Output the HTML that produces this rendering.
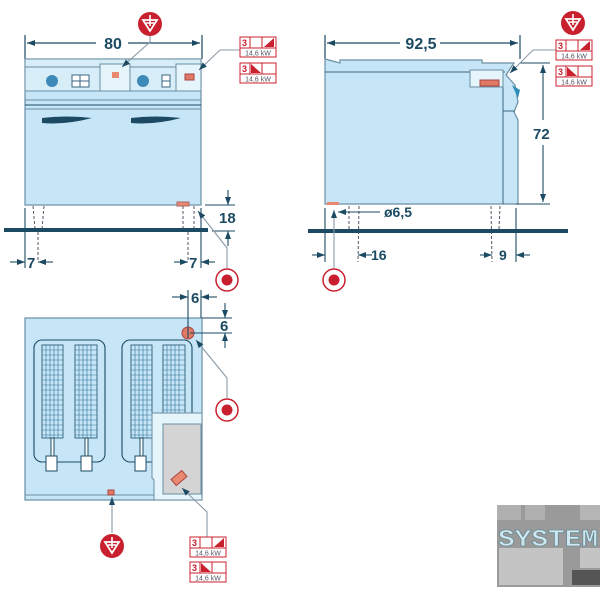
<!DOCTYPE html>
<html><head><meta charset="utf-8"><style>body{margin:0;background:#fff}svg{display:block}</style></head><body>
<svg width="600" height="591" viewBox="0 0 600 591" xmlns="http://www.w3.org/2000/svg" font-family="Liberation Sans, sans-serif">
<defs>
<g id="tbl">
  <rect x="0" y="0" width="36" height="11" fill="#fff" stroke="#c8202e"/>
  <rect x="0" y="0" width="10" height="11" fill="#fff" stroke="#c8202e"/>
  <rect x="10" y="0" width="12" height="11" fill="#fff" stroke="#c8202e"/>
  <text x="2" y="9" font-size="9" font-weight="bold" fill="#c8202e">3</text>
  <rect x="0" y="11" width="36" height="9" fill="#fff" stroke="#c8202e"/>
  <text x="18" y="18.5" font-size="7" text-anchor="middle" fill="#556">14,6 kW</text>
</g>
<g id="gnd">
  <circle r="12" fill="#c8202e"/>
  <path d="M-7,-4 L7,-4 L0,7 Z" fill="none" stroke="#fff" stroke-width="1.8"/>
  <path d="M0,-9 V2 M-4,-1 H4" stroke="#fff" stroke-width="1.6"/>
</g>
<g id="tgt">
  <circle r="11" fill="#fff" stroke="#c8202e" stroke-width="1.5"/>
  <circle r="5.5" fill="#c8202e"/>
</g>
<marker id="ar" markerWidth="8" markerHeight="6" refX="8" refY="3" orient="auto" markerUnits="userSpaceOnUse"><path d="M0,0 L8,3 L0,6 Z" fill="#1c4a63"/></marker>
</defs>
<g stroke="#1c4a63" fill="none" stroke-width="1.2">
<line x1="25" y1="35" x2="25" y2="59"/><line x1="202" y1="35" x2="202" y2="59"/>
<line x1="128" y1="43" x2="200" y2="43" marker-end="url(#ar)"/>
</g>
<line x1="96" y1="43" x2="27" y2="43" stroke="#1c4a63" stroke-width="1.2" marker-end="url(#ar)"/>
<text x="113" y="49" font-size="16" font-weight="bold" fill="#1c4a63" text-anchor="middle">80</text>
<rect x="25" y="59" width="176" height="146" fill="#c6e6f7" stroke="#6b8ea3" stroke-width="1.2"/>
<rect x="25" y="59" width="176" height="32" fill="#d7eef9" stroke="#6b8ea3"/>
<line x1="25" y1="67" x2="201" y2="67" stroke="#6b8ea3"/>
<rect x="100" y="64" width="30" height="27" fill="#e6f4fb" stroke="#6b8ea3"/>
<rect x="176" y="64" width="25" height="27" fill="#e6f4fb" stroke="#6b8ea3"/>
<rect x="112" y="72" width="7" height="6" fill="#e88a70"/>
<rect x="185" y="74" width="9" height="6" fill="#e07a65" stroke="#a44"/>
<circle cx="52" cy="81" r="6" fill="#3d8ab8"/><circle cx="143" cy="81" r="6" fill="#3d8ab8"/>
<rect x="72" y="75" width="17" height="12" fill="#fff" stroke="#3a6580"/><line x1="80" y1="75" x2="80" y2="87" stroke="#3a6580"/><line x1="72" y1="81" x2="89" y2="81" stroke="#3a6580"/>
<rect x="162" y="75" width="8" height="12" fill="#fff" stroke="#3a6580"/><line x1="162" y1="81" x2="170" y2="81" stroke="#3a6580"/>
<line x1="25" y1="100" x2="201" y2="100" stroke="#6b8ea3"/><line x1="25" y1="105" x2="201" y2="105" stroke="#1c4a63"/><line x1="25" y1="109" x2="201" y2="109" stroke="#6b8ea3"/>
<path d="M42,118 Q66,115 92,118 Q66,125 42,123 Z" fill="#1c4a63"/>
<path d="M131,118 Q155,115 181,118 Q155,125 131,123 Z" fill="#1c4a63"/>
<rect x="177" y="202" width="12" height="4" fill="#e88a70" stroke="#a66"/>
<g stroke="#556" stroke-dasharray="3,2" stroke-width="1"><line x1="33" y1="206" x2="35" y2="229"/><line x1="44" y1="206" x2="42" y2="229"/><line x1="183" y1="206" x2="183" y2="229"/><line x1="194" y1="206" x2="194" y2="229"/><line x1="38" y1="232" x2="38" y2="262"/><line x1="188" y1="232" x2="188" y2="262"/></g>
<rect x="4" y="228" width="204" height="4" fill="#1c4a63"/>
<g stroke="#1c4a63" stroke-width="1.1">
<line x1="25" y1="208" x2="25" y2="268"/><line x1="201" y1="208" x2="201" y2="268"/>
<line x1="10" y1="262" x2="25" y2="262" marker-end="url(#ar)"/><line x1="53" y1="262" x2="38" y2="262" marker-end="url(#ar)"/>
<line x1="174" y1="262" x2="188" y2="262" marker-end="url(#ar)"/><line x1="215" y1="262" x2="201" y2="262" marker-end="url(#ar)"/>
<line x1="205" y1="205" x2="235" y2="205"/><line x1="212" y1="231" x2="235" y2="231"/>
<line x1="228" y1="190" x2="228" y2="205" marker-end="url(#ar)"/><line x1="228" y1="246" x2="228" y2="231" marker-end="url(#ar)"/>
</g>
<text x="27" y="268" font-size="15" font-weight="bold" fill="#1c4a63">7</text>
<text x="189" y="268" font-size="15" font-weight="bold" fill="#1c4a63">7</text>
<text x="219" y="223" font-size="15" font-weight="bold" fill="#1c4a63">18</text>
<g stroke="#8a9aa6" fill="none" stroke-width="1.1"><path d="M150,32 V42 L122,67" marker-end="url(#ar)"/><path d="M240,50 H220 L199,70" marker-end="url(#ar)"/><path d="M227,268 V248 L198,211" marker-end="url(#ar)"/></g>
<use href="#gnd" x="150" y="24"/>
<use href="#tgt" x="227" y="280"/>
<g transform="translate(240,37)"><use href="#tbl"/><path d="M24,10 L34,10 L34,1 Z" fill="#c8202e"/></g>
<g transform="translate(240,63)"><use href="#tbl"/><path d="M11,1 L21,10 L11,10 Z" fill="#c8202e"/></g>

<g stroke="#1c4a63" stroke-width="1.2"><line x1="325" y1="35" x2="325" y2="59"/><line x1="520" y1="35" x2="520" y2="59"/>
<line x1="400" y1="43" x2="327" y2="43" marker-end="url(#ar)"/><line x1="440" y1="43" x2="518" y2="43" marker-end="url(#ar)"/></g>
<text x="421" y="49" font-size="16" font-weight="bold" fill="#1c4a63" text-anchor="middle">92,5</text>
<path d="M325,59 L340,63 L340,60 L482,60 L482,63 L514,63 L506,75 L515,85 L518,102 L514,112 L518,120 L518,204 L325,204 Z" fill="#c6e6f7" stroke="#6b8ea3" stroke-width="1.2"/>
<line x1="325" y1="72" x2="505" y2="72" stroke="#3a6580"/>
<line x1="503" y1="72" x2="503" y2="204" stroke="#3a6580"/>
<line x1="503" y1="111" x2="515" y2="111" stroke="#3a6580"/>
<rect x="470" y="70" width="33" height="17" fill="#e6f4fb" stroke="#6b8ea3"/>
<rect x="480" y="80" width="19" height="6" fill="#e07a65" stroke="#a44"/>
<path d="M512,85 L520,90 L518,98 Z" fill="#2f8fb8"/>
<rect x="327" y="202" width="12" height="3" fill="#e88a70"/>
<g stroke="#556" stroke-dasharray="3,2" stroke-width="1"><line x1="349" y1="206" x2="349" y2="229"/><line x1="359" y1="206" x2="358" y2="262"/><line x1="491" y1="206" x2="492" y2="262"/><line x1="500" y1="206" x2="499" y2="229"/></g>
<rect x="308" y="229" width="260" height="4" fill="#1c4a63"/>
<g stroke="#1c4a63" stroke-width="1.1">
<line x1="325" y1="208" x2="325" y2="262"/><line x1="516" y1="208" x2="516" y2="262"/>
<line x1="312" y1="255" x2="325" y2="255" marker-end="url(#ar)"/><line x1="372" y1="255" x2="358" y2="255" marker-end="url(#ar)"/>
<line x1="480" y1="255" x2="492" y2="255" marker-end="url(#ar)"/><line x1="530" y1="255" x2="516" y2="255" marker-end="url(#ar)"/>
<line x1="380" y1="212" x2="338" y2="212" marker-end="url(#ar)"/>
<line x1="520" y1="63" x2="550" y2="63"/><line x1="516" y1="204" x2="550" y2="204"/>
<line x1="543" y1="120" x2="543" y2="65" marker-end="url(#ar)"/><line x1="543" y1="145" x2="543" y2="202" marker-end="url(#ar)"/>
</g>
<text x="384" y="217" font-size="14" font-weight="bold" fill="#1c4a63">ø6,5</text>
<text x="371" y="260" font-size="14" font-weight="bold" fill="#1c4a63">16</text>
<text x="499" y="260" font-size="14" font-weight="bold" fill="#1c4a63">9</text>
<text x="533" y="139" font-size="15" font-weight="bold" fill="#1c4a63">72</text>
<g stroke="#8a9aa6" fill="none" stroke-width="1.1"><path d="M556,50 H533 L510,73" marker-end="url(#ar)"/><path d="M334,268 V210" marker-end="url(#ar)"/></g>
<use href="#gnd" x="573" y="23"/>
<use href="#tgt" x="334" y="280"/>
<g transform="translate(556,40)"><use href="#tbl"/><path d="M24,10 L34,10 L34,1 Z" fill="#c8202e"/></g>
<g transform="translate(556,66)"><use href="#tbl"/><path d="M11,1 L21,10 L11,10 Z" fill="#c8202e"/></g>

<rect x="25" y="318" width="177" height="182" fill="#c6e6f7" stroke="#6b8ea3" stroke-width="1.2"/>
<line x1="25" y1="495" x2="202" y2="495" stroke="#6b8ea3"/>
<g fill="none" stroke="#1c4a63" stroke-width="1.1">
<rect x="34" y="340" width="71" height="122" rx="8"/>
<rect x="122" y="340" width="70" height="122" rx="8"/>
</g>
<g fill="#c6e6f7" stroke="#1c4a63" stroke-width="0.8">
<rect x="42" y="345" width="21" height="93" /><rect x="75" y="345" width="22" height="93"/>
<rect x="131" y="345" width="21" height="93"/><rect x="163" y="345" width="22" height="93"/>
</g>
<g stroke="#2d6f95" stroke-width="0.6">
<path d="M42,350H63M42,355H63M42,360H63M42,365H63M42,370H63M42,375H63M42,380H63M42,385H63M42,390H63M42,395H63M42,400H63M42,405H63M42,410H63M42,415H63M42,420H63M42,425H63M42,430H63M42,435H63 M46,345V438M50,345V438M54,345V438M58,345V438"/>
<path d="M75,350H97M75,355H97M75,360H97M75,365H97M75,370H97M75,375H97M75,380H97M75,385H97M75,390H97M75,395H97M75,400H97M75,405H97M75,410H97M75,415H97M75,420H97M75,425H97M75,430H97M75,435H97 M79,345V438M83,345V438M87,345V438M91,345V438"/>
<path d="M131,350H152M131,355H152M131,360H152M131,365H152M131,370H152M131,375H152M131,380H152M131,385H152M131,390H152M131,395H152M131,400H152M131,405H152M131,410H152M131,415H152M131,420H152M131,425H152M131,430H152M131,435H152 M135,345V438M139,345V438M143,345V438M147,345V438"/>
<path d="M163,350H185M163,355H185M163,360H185M163,365H185M163,370H185M163,375H185M163,380H185M163,385H185M163,390H185M163,395H185M163,400H185M163,405H185M163,410H185M163,415H185M163,420H185M163,425H185M163,430H185M163,435H185 M167,345V438M171,345V438M175,345V438M179,345V438"/>
</g>
<g stroke="#1c4a63" fill="#fff" stroke-width="1">
<rect x="51" y="438" width="3" height="18"/><rect x="85" y="438" width="3" height="18"/><rect x="140" y="438" width="3" height="18"/>
<rect x="46" y="456" width="11" height="15"/><rect x="81" y="456" width="11" height="15"/><rect x="135" y="456" width="11" height="15"/>
</g>
<path d="M152,413 H202 V500 H154 V480 L152,478 Z" fill="#e6f4fb" stroke="#6b8ea3"/>
<rect x="163" y="424" width="38" height="70" fill="#d4d4d4" stroke="#6b8ea3"/>
<rect x="172" y="474" width="14" height="8" fill="#e88a70" stroke="#a44" transform="rotate(-40 179 478)"/>
<rect x="108" y="490" width="6" height="5" fill="#e07a65" stroke="#a44"/>
<circle cx="188" cy="333" r="6" fill="#e07a65" stroke="#a44"/>
<g stroke="#1c4a63" stroke-width="1.1">
<line x1="188" y1="290" x2="188" y2="338"/><line x1="201" y1="290" x2="201" y2="318"/>
<line x1="172" y1="297" x2="188" y2="297" marker-end="url(#ar)"/><line x1="217" y1="297" x2="201" y2="297" marker-end="url(#ar)"/>
<line x1="202" y1="318" x2="232" y2="318"/><line x1="190" y1="333" x2="232" y2="333"/>
<line x1="225" y1="303" x2="225" y2="318" marker-end="url(#ar)"/><line x1="225" y1="348" x2="225" y2="333" marker-end="url(#ar)"/>
</g>
<text x="191" y="303" font-size="15" font-weight="bold" fill="#1c4a63">6</text>
<text x="220" y="331" font-size="15" font-weight="bold" fill="#1c4a63">6</text>
<g stroke="#8a9aa6" fill="none" stroke-width="1.1"><path d="M227,398 V378 L196,340" marker-end="url(#ar)"/><path d="M112,533 V497" marker-end="url(#ar)"/><path d="M207,537 V512 L182,488" marker-end="url(#ar)"/></g>
<use href="#tgt" x="227" y="410"/>
<use href="#gnd" x="112" y="546"/>
<g transform="translate(190,537)"><use href="#tbl"/><path d="M24,10 L34,10 L34,1 Z" fill="#c8202e"/></g>
<g transform="translate(190,562)"><use href="#tbl"/><path d="M11,1 L21,10 L11,10 Z" fill="#c8202e"/></g>

<rect x="497" y="505" width="103" height="82" fill="#9a9a9a"/>
<rect x="497" y="505" width="24" height="15" fill="#b0b0b0"/>
<rect x="525" y="505" width="20" height="15" fill="#b0b0b0"/>
<rect x="580" y="505" width="20" height="15" fill="#b5b5b5"/>
<rect x="499" y="548" width="64" height="37" fill="#c4c4c4"/>
<rect x="580" y="548" width="20" height="20" fill="#c4c4c4"/>
<rect x="572" y="570" width="28" height="15" fill="#555"/>
<text x="548" y="546" font-size="24" font-weight="bold" font-family="Liberation Mono, monospace" fill="#cfe8f0" stroke="#6a8a95" stroke-width="0.8" text-anchor="middle" textLength="100" lengthAdjust="spacingAndGlyphs">SYSTEM</text>
</svg>
</body></html>
